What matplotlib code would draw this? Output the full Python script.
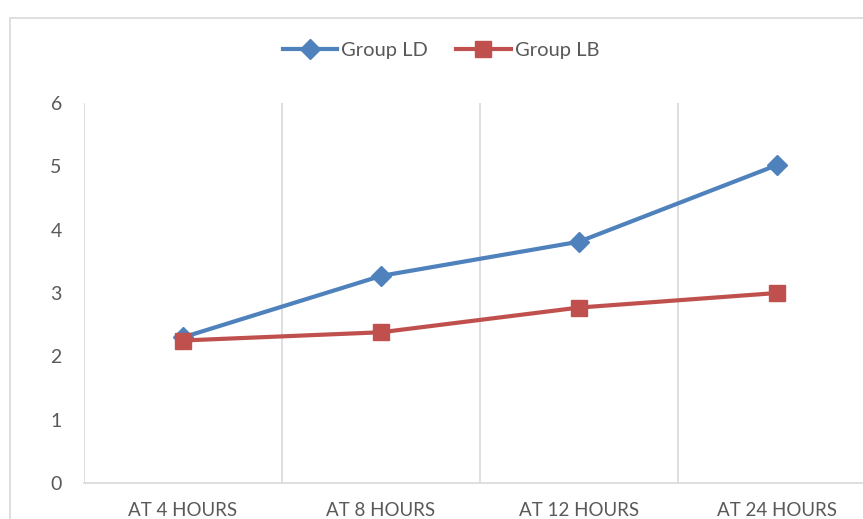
import matplotlib
matplotlib.use('Agg')
import matplotlib.pyplot as plt
from matplotlib.patches import Rectangle

plt.rcParams['font.family'] = ['Lato', 'DejaVu Sans']

# Data
categories = ['AT 4 HOURS', 'AT 8 HOURS', 'AT 12 HOURS', 'AT 24 HOURS']
group_ld = [2.30, 3.27, 3.81, 5.02]
group_lb = [2.25, 2.38, 2.77, 3.00]

TEXT = '#595959'
GRID = '#d9d9d9'

fig = plt.figure(figsize=(8.63, 5.19), dpi=100)
ax = fig.add_axes([84 / 863, 36 / 519, 792 / 863, 380 / 519])

x = list(range(len(categories)))
ax.plot(x, group_ld, color='#4f81bd', linewidth=3, marker='D', markersize=10,
        label='Group LD', zorder=3)
ax.plot(x, group_lb, color='#c0504d', linewidth=3, marker='s', markersize=12,
        label='Group LB', zorder=3)

ax.set_xlim(-0.5, len(categories) - 0.5)
ax.set_ylim(0, 6)
ax.set_yticks(range(0, 7))

# vertical separators between categories
for b in [i - 0.5 for i in range(len(categories) + 1)]:
    ax.axvline(b, color=GRID, linewidth=1.2, zorder=1)

for s in ['top', 'right', 'left']:
    ax.spines[s].set_visible(False)
ax.spines['bottom'].set_color(GRID)
ax.spines['bottom'].set_linewidth(1.2)

ax.set_xticks(x)
ax.set_xticklabels(categories)
ax.tick_params(axis='x', length=0, pad=14, labelsize=13.5, labelcolor=TEXT)
ax.tick_params(axis='y', length=0, pad=16, labelsize=14, labelcolor=TEXT)

fig.legend(loc='center', bbox_to_anchor=(441 / 863, 1 - 50 / 519), ncol=2,
           frameon=False, fontsize=14.5, labelcolor=TEXT, handlelength=2.7,
           handletextpad=0.2, columnspacing=1.4)

# chart area border
fig.patches.append(Rectangle((10 / 863, -0.1), 1.0, 1 - 18 / 519 + 0.1,
                             transform=fig.transFigure, fill=False,
                             edgecolor=GRID, linewidth=1.2))

fig.savefig('out.png', dpi=100)
